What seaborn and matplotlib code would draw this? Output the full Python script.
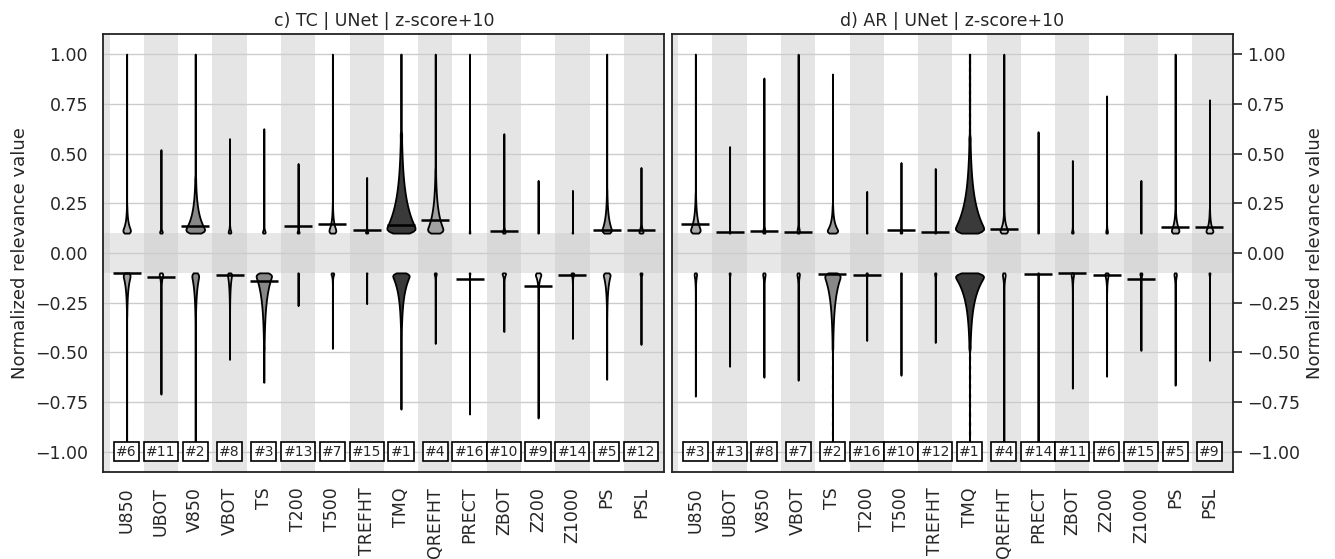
import numpy as np
import matplotlib
matplotlib.use("Agg")
import matplotlib.pyplot as plt
import seaborn as sns

variables = ["U850", "UBOT", "V850", "VBOT", "TS", "T200", "T500", "TREFHT",
             "TMQ", "QREFHT", "PRECT", "ZBOT", "Z200", "Z1000", "PS", "PSL"]
threshold = 0.1

# ---- c) TC panel ----
tc_rank = [6, 11, 2, 8, 3, 13, 7, 15, 1, 4, 16, 10, 9, 14, 5, 12]
tc_pos_max = [1.0, 0.52, 1.0, 0.575, 0.625, 0.45, 1.0, 0.38, 1.0, 1.0, 1.0, 0.60, 0.365, 0.315, 1.0, 0.43]
tc_pos_bulk = [0.24, 0.14, 0.38, 0.15, 0.14, 0.13, 0.24, 0.13, 0.60, 0.42, 0.11, 0.15, 0.11, 0.11, 0.32, 0.18]
tc_pos_width = [0.22, 0.08, 0.55, 0.08, 0.08, 0.06, 0.20, 0.07, 0.82, 0.45, 0.02, 0.08, 0.02, 0.02, 0.27, 0.12]
tc_pos_line = [np.nan, np.nan, 0.135, np.nan, np.nan, 0.135, 0.148, 0.117, 0.14, 0.165,
               np.nan, 0.112, np.nan, np.nan, 0.118, 0.118]
tc_pos_fill = ["#aaaaaa", "white", "#888888", "white", "#cccccc", "white", "#bbbbbb", "white",
               "#3a3a3a", "#a0a0a0", "white", "white", "white", "white", "#999999", "#cccccc"]

tc_neg_min = [-1.0, -0.71, -1.0, -0.535, -0.65, -0.265, -0.48, -0.255, -0.785, -0.455,
              -0.81, -0.395, -0.83, -0.43, -0.635, -0.46]
tc_neg_bulk = [0.32, 0.20, 0.38, 0.30, 0.48, 0.11, 0.15, 0.11, 0.42, 0.15, 0.11, 0.16, 0.20, 0.15, 0.32, 0.14]
tc_neg_width = [0.20, 0.10, 0.20, 0.12, 0.45, 0.02, 0.08, 0.02, 0.48, 0.06, 0.02, 0.10, 0.16, 0.08, 0.20, 0.06]
tc_neg_line = [-0.10, -0.12, np.nan, -0.11, -0.142, np.nan, np.nan, np.nan, np.nan, np.nan,
               -0.13, np.nan, -0.168, -0.11, np.nan, np.nan]
tc_neg_fill = ["#a0a0a0", "white", "#888888", "#cccccc", "#888888", "white", "white", "white",
               "#3a3a3a", "white", "white", "white", "#dddddd", "white", "#aaaaaa", "white"]

# ---- d) AR panel ----
ar_rank = [3, 13, 8, 7, 2, 16, 10, 12, 1, 4, 14, 11, 6, 15, 5, 9]
ar_pos_max = [1.0, 0.535, 0.88, 1.0, 0.90, 0.31, 0.455, 0.425, 1.0, 1.0, 0.61, 0.465, 0.79, 0.365, 1.0, 0.77]
ar_pos_bulk = [0.30, 0.11, 0.16, 0.17, 0.24, 0.11, 0.14, 0.12, 0.58, 0.22, 0.11, 0.14, 0.14, 0.11, 0.24, 0.22]
ar_pos_width = [0.28, 0.02, 0.07, 0.07, 0.30, 0.02, 0.05, 0.03, 0.82, 0.22, 0.02, 0.05, 0.05, 0.02, 0.22, 0.20]
ar_pos_line = [0.145, 0.105, 0.113, 0.105, np.nan, np.nan, 0.118, 0.105, np.nan, 0.122,
               np.nan, np.nan, np.nan, np.nan, 0.133, 0.133]
ar_pos_fill = ["#aaaaaa", "white", "white", "white", "#999999", "white", "white", "white",
               "#3a3a3a", "#cccccc", "white", "white", "white", "white", "#bbbbbb", "#cccccc"]

ar_neg_min = [-0.72, -0.57, -0.625, -0.64, -1.0, -0.44, -0.615, -0.45, -1.0, -1.0,
              -1.0, -0.68, -0.62, -0.49, -0.665, -0.54]
ar_neg_bulk = [0.20, 0.12, 0.20, 0.20, 0.48, 0.13, 0.13, 0.15, 0.48, 0.20, 0.11, 0.20, 0.20, 0.15, 0.20, 0.12]
ar_neg_width = [0.07, 0.03, 0.07, 0.07, 0.45, 0.04, 0.03, 0.04, 0.82, 0.08, 0.02, 0.07, 0.10, 0.06, 0.07, 0.03]
ar_neg_line = [np.nan, np.nan, np.nan, np.nan, -0.105, -0.11, np.nan, np.nan, np.nan, np.nan,
               -0.105, -0.10, -0.11, -0.13, np.nan, np.nan]
ar_neg_fill = ["white", "white", "white", "white", "#888888", "white", "white", "white",
               "#3a3a3a", "white", "white", "white", "white", "white", "white", "white"]

sns.set_style("white")
plt.rcParams["font.family"] = ["DejaVu Sans"]


def violin_sample(bulk, extent, sign):
    # exponential-like core decaying from the threshold to the bulk height,
    # plus a very sparse tail up to the extreme value
    u = np.linspace(0, 0.97, 300)
    core = threshold + (bulk - threshold) / 3.5 * -np.log(1 - u)
    tail = np.linspace(bulk, extent, 12)
    return sign * np.concatenate([core, tail])


def draw_side(ax, ext, bulk, width, fills, sign):
    for i, name in enumerate(variables):
        vals = violin_sample(bulk[i], abs(ext[i]), sign)
        sns.violinplot(x=[name] * len(vals), y=vals, order=variables, ax=ax,
                       color=fills[i], saturation=1, width=width[i],
                       density_norm="width", cut=0, inner=None,
                       linecolor="black", linewidth=1.3, bw_adjust=0.25)


def draw_panel(ax, title, rank, pos, neg, right=False):
    for i in range(-1, 17):
        if i % 2 == 1:
            ax.axvspan(i - 0.5, i + 0.5, color="#e5e5e5", lw=0, zorder=0)
    ax.axvspan(15.5, 16.5, color="#e5e5e5", lw=0, zorder=0)
    ax.axhspan(-threshold, threshold, color="#c8c8c8", alpha=0.42, lw=0, zorder=0.2)

    draw_side(ax, pos[0], pos[1], pos[2], pos[4], 1)
    draw_side(ax, neg[0], neg[1], neg[2], neg[4], -1)

    xs = np.arange(len(variables))
    ax.scatter(xs, pos[3], marker="_", s=420, c="black", linewidths=1.8, zorder=4)
    ax.scatter(xs, neg[3], marker="_", s=420, c="black", linewidths=1.8, zorder=4)

    for i, r in enumerate(rank):
        ax.text(i, -1.0, f"#{r}", ha="center", va="center", fontsize=10, zorder=6,
                bbox=dict(boxstyle="square,pad=0.17", fc="white", ec="black", lw=1.2))

    ax.set_axisbelow(True)
    ax.yaxis.grid(True, color="#cccccc", lw=1)
    ax.xaxis.grid(False)
    ax.set_xlim(-0.68, 15.68)
    ax.set_ylim(-1.1, 1.1)
    ax.set_yticks([-1.0, -0.75, -0.5, -0.25, 0.0, 0.25, 0.5, 0.75, 1.0])
    ax.set_xticks(xs)
    ax.set_xticklabels(variables, rotation=90, fontsize=12.5)
    ax.set_xlabel("")
    ax.set_title(title, fontsize=12.5, pad=6)
    ax.tick_params(axis="x", length=0, pad=11)
    for s in ax.spines.values():
        s.set_color("#222222")
        s.set_linewidth(1.3)
    if right:
        ax.yaxis.tick_right()
        ax.yaxis.set_label_position("right")
        ax.tick_params(axis="y", length=6.5, width=1.2, pad=4, labelsize=12.5)
    else:
        ax.tick_params(axis="y", length=0, pad=11, labelsize=12.5)
    ax.set_ylabel("Normalized relevance value", fontsize=13)


fig = plt.figure(figsize=(13.35, 5.59), dpi=100)
ax1 = fig.add_axes([0.0774, 0.1562, 0.4202, 0.7825])
ax2 = fig.add_axes([0.5034, 0.1562, 0.4200, 0.7825])

draw_panel(ax1, "c) TC | UNet | z-score+10", tc_rank,
           (tc_pos_max, tc_pos_bulk, tc_pos_width, tc_pos_line, tc_pos_fill),
           (tc_neg_min, tc_neg_bulk, tc_neg_width, tc_neg_line, tc_neg_fill))
draw_panel(ax2, "d) AR | UNet | z-score+10", ar_rank,
           (ar_pos_max, ar_pos_bulk, ar_pos_width, ar_pos_line, ar_pos_fill),
           (ar_neg_min, ar_neg_bulk, ar_neg_width, ar_neg_line, ar_neg_fill),
           right=True)

fig.savefig("out.png", dpi=100)
